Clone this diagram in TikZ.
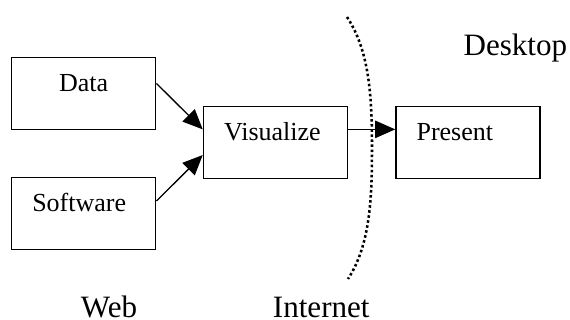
\documentclass[tikz,border=0pt]{standalone}
\usepackage{fontspec}
\setmainfont{Liberation Serif}
\usepackage{tikz}
\usetikzlibrary{arrows.meta}

\tikzset{
	boxnode/.style={draw, line width=1pt, minimum width=108.15pt, minimum height=54pt, text width=77.15pt, inner xsep=15.5pt, inner ysep=0pt, text height=25.5pt, text depth=28.5pt, align=left, font=\fontsize{19.5}{23}\selectfont},
	bigtext/.style={anchor=base west, inner sep=0pt, font=\fontsize{23.3}{28}\selectfont},
	arr/.style={line width=1pt, -{Triangle[length=15pt, width=13pt]}},
	netline/.style={line width=1.9pt, dash pattern=on 1.9pt off 1.9pt}
}

\begin{document}
\begin{tikzpicture}[x=0.75pt,y=0.75pt,yscale=-1,xscale=1]
				\useasboundingbox (0,0) rectangle (570,320);
				
				%Shape: Rectangle [Data]
				\node [boxnode, align=center] (data) at (83.7,93.7) {Data};
				%Shape: Rectangle [Software]
				\node [boxnode] (soft) at (83.7,213.8) {Software};
				%Shape: Rectangle [Visualize]
				\node [boxnode] (vis) at (275.5,142.2) {Visualize};
				%Shape: Rectangle [Present]
				\node [boxnode] (pres) at (468,142.2) {Present};
				
				%Straight Lines
				\draw [arr] (data.8) -- (vis.170);
				\draw [arr] (soft.10) -- (vis.190);
				\draw [arr] (vis.10) -- (pres.170);
				
				%Curve Lines [internet]
				\draw [netline] (347,17) .. controls (369,50) and (372,95) .. (372,147) .. controls (372,200) and (370,245) .. (348,279) ;
				
				% Text Node
				\node [bigtext] (desk) at (463.3,55.5) {Desktop};
				% Text Node
				\node [bigtext] (web) at (80.7,317.3) {Web};
				% Text Node
				\node [bigtext] (inet) at (272.7,317.3) {Internet};
				
			\end{tikzpicture}
\end{document}
